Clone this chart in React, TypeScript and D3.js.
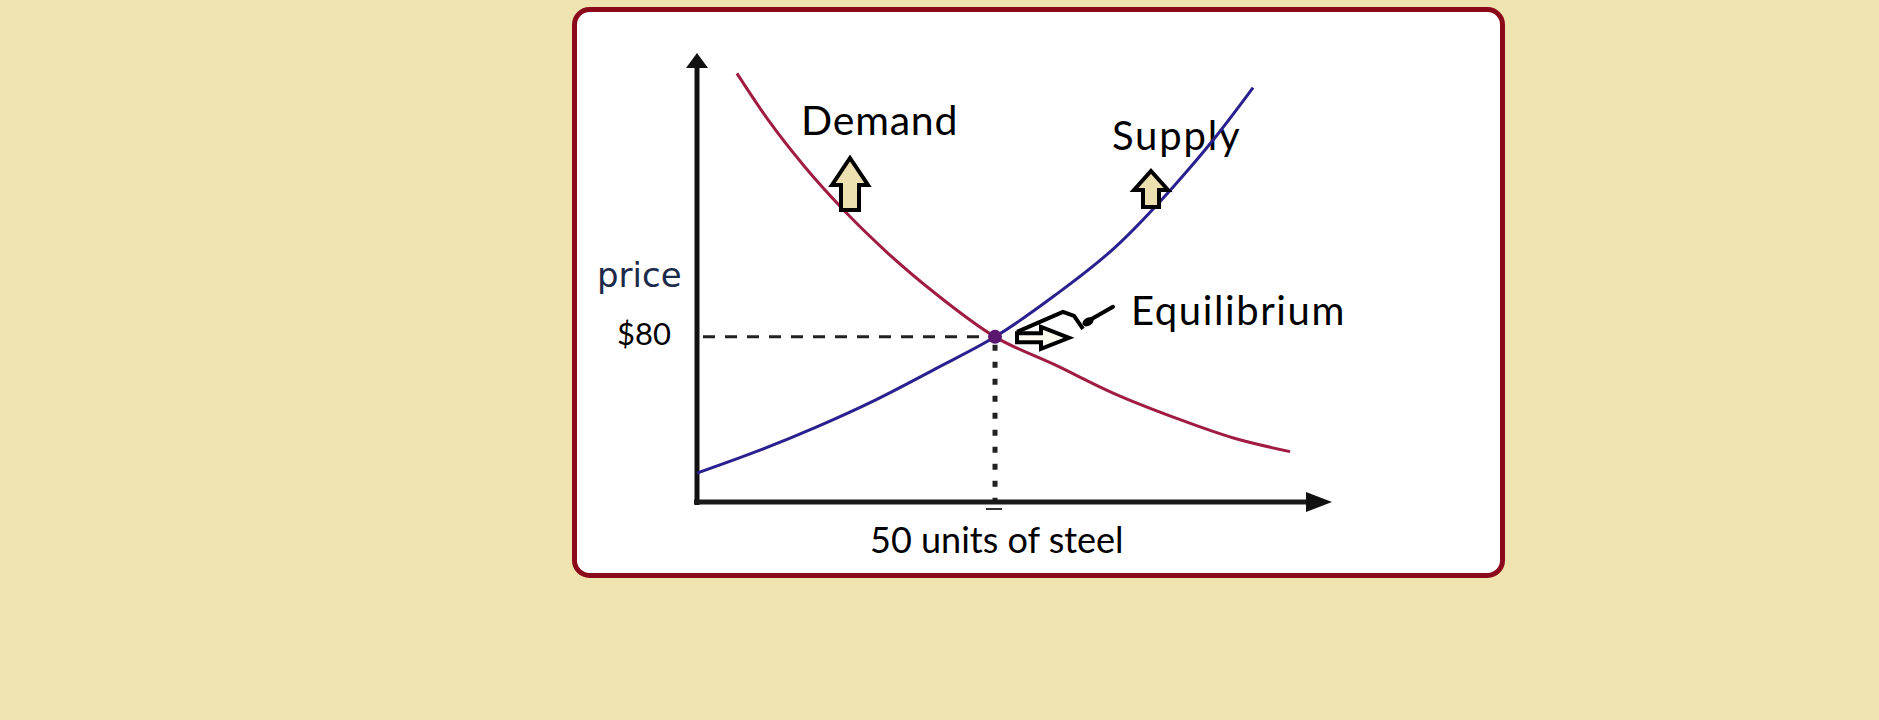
import React from "react";
import * as d3 from "d3";

// quantity / price readings
const demandQty = [6.7, 12, 18, 25, 32, 40, 50, 60, 70, 80, 90, 99.5];
const demandPrice = [207.6, 184.8, 162.6, 140.2, 120.6, 101, 80, 66.5, 52.5, 41, 31, 24.4];
const supplyQty = [0, 10, 20, 30, 40, 50, 60, 70, 80, 87, 93.3];
const supplyPrice = [14, 24.5, 36.3, 49.5, 64.5, 80, 100, 123, 153, 176.8, 200.7];

const equilibriumQty = 50;
const equilibriumPrice = 80;
const priceLabel = "$80";
const qtyLabel = "50 units of steel";
const curveLabels = ["Demand", "Supply", "Equilibrium"];

const W = 1879;
const H = 720;
const TXT = "Lato, 'Open Sans', sans-serif";

type Pt = [number, number];

const App: React.FC = () => {
  const x = d3.scaleLinear().domain([0, 106.2]).range([697, 1330]);
  const y = d3.scaleLinear().domain([0, 217]).range([502, 54]);

  const line = d3
    .line<Pt>()
    .x((d) => x(d[0]))
    .y((d) => y(d[1]))
    .curve(d3.curveMonotoneX);

  const demand: Pt[] = demandQty.map((q, i) => [q, demandPrice[i]]);
  const supply: Pt[] = supplyQty.map((q, i) => [q, supplyPrice[i]]);

  const ex = x(equilibriumQty);
  const ey = y(equilibriumPrice);
  const [x0, x1] = x.range();
  const [y0, y1] = y.range();

  // block arrow pointing up, tip at (cx, top)
  const upArrow = (cx: number, top: number, hw: number, hh: number, sw: number, len: number) =>
    `M${cx},${top} L${cx + hw},${top + hh} L${cx + sw},${top + hh} L${cx + sw},${top + len} L${cx - sw},${top + len} L${cx - sw},${top + hh} L${cx - hw},${top + hh} Z`;

  const rightArrow = (left: number, cy: number) =>
    `M${left},${cy - 4.5} L${left + 24},${cy - 4.5} L${left + 24},${cy - 11} L${left + 52},${cy} L${left + 24},${cy + 11} L${left + 24},${cy + 4.5} L${left},${cy + 4.5} Z`;

  return (
    <div style={{ position: "fixed", left: 0, top: 0, width: W, height: H }}>
      <svg width={W} height={H} style={{ display: "block" }}>
        <rect width={W} height={H} fill="#efe4b0" />
        <rect x={574.5} y={9.5} width={928} height={566} rx={15} fill="#ffffff" stroke="#8a0a1c" strokeWidth={5} />

        {/* guide lines to the equilibrium */}
        <line x1={x0 + 6} x2={ex} y1={ey} y2={ey} stroke="#222" strokeWidth={3} strokeDasharray="12 10" />
        <line x1={ex} x2={ex} y1={ey + 8} y2={y0} stroke="#222" strokeWidth={5} strokeDasharray="6 11" />
        <line x1={ex - 9} x2={ex + 7} y1={y0 + 7} y2={y0 + 7} stroke="#333" strokeWidth={2} />

        {/* axes */}
        <line x1={x0} x2={x0} y1={y0 + 3} y2={y1 + 10} stroke="#111" strokeWidth={5} />
        <path d={`M${x0},${y1 - 1} L${x0 + 11},${y1 + 14} L${x0 - 11},${y1 + 14} Z`} fill="#111" />
        <line x1={x0 - 3} x2={x1 - 22} y1={y0} y2={y0} stroke="#1a1a1a" strokeWidth={5} />
        <path d={`M${x1 + 2},${y0} L${x1 - 24},${y0 - 10} L${x1 - 24},${y0 + 10} Z`} fill="#111" />

        {/* labels */}
        <text x={597} y={287} fontFamily="'DejaVu Sans', sans-serif" fontSize={34} fill="#1b2a4a">price</text>
        <text x={617} y={345} fontFamily={TXT} fontSize={31} fill="#000">{priceLabel}</text>
        <text x={870} y={553} fontFamily={TXT} fontSize={36} fill="#000">{qtyLabel}</text>
        <text x={801} y={135} fontFamily={TXT} fontSize={41} letterSpacing={0.8} fill="#000">{curveLabels[0]}</text>
        <text x={1112} y={150} fontFamily={TXT} fontSize={40} letterSpacing={1.8} fill="#000">{curveLabels[1]}</text>
        <text x={1131} y={325} fontFamily={TXT} fontSize={40} letterSpacing={1.6} fill="#000">{curveLabels[2]}</text>

        {/* curves */}
        <path d={line(demand) ?? ""} fill="none" stroke="#a11c42" strokeWidth={3} />
        <path d={line(supply) ?? ""} fill="none" stroke="#2a2090" strokeWidth={3} />
        <circle cx={ex} cy={ey} r={7} fill="#5b1670" />

        {/* shift arrows */}
        <path d={upArrow(850, 158, 18, 27, 9, 52)} fill="#ede0b0" stroke="#000" strokeWidth={4} strokeLinejoin="miter" />
        <path d={upArrow(1151, 171, 17, 19, 8, 36)} fill="#ede0b0" stroke="#000" strokeWidth={4} strokeLinejoin="miter" />
        <path d={rightArrow(ex + 22, ey + 1)} fill="#fffdf2" stroke="#000" strokeWidth={4} />
        <path d={`M${ex + 22},${ey - 5} L${ex + 68},${ey - 25} L${ex + 79},${ey - 21} L${ex + 88},${ey - 8}`} fill="none" stroke="#000" strokeWidth={4} strokeLinejoin="round" />
        <path d={`M${ex + 90},${ey - 14} L${ex + 118},${ey - 30}`} fill="none" stroke="#000" strokeWidth={4} strokeLinecap="round" />
        <ellipse cx={ex + 93} cy={ey - 15} rx={6} ry={4} fill="#000" transform={`rotate(-30 ${ex + 93} ${ey - 15})`} />
      </svg>
    </div>
  );
};

export default App;
